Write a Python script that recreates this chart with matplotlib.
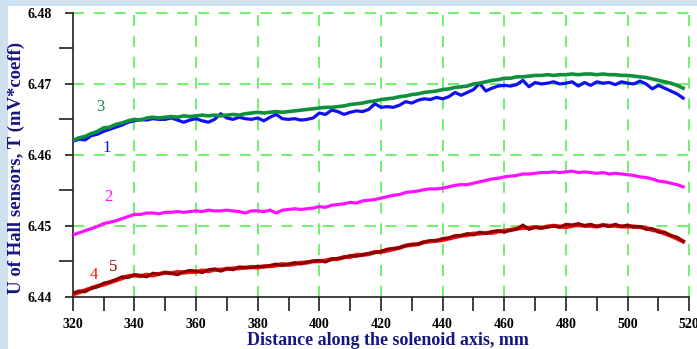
import numpy as np
import matplotlib
matplotlib.use("Agg")
import matplotlib.pyplot as plt

plt.rcParams['lines.scale_dashes'] = False

# ---------------- data ----------------
distance_mm = np.arange(320, 520, 2)  # 320 ... 518

sensor3_green = [
    6.4620, 6.4624, 6.4626, 6.4630, 6.4633, 6.4638, 6.4639, 6.4643, 6.4645, 6.4648,
    6.4650, 6.4649, 6.4652, 6.4653, 6.4652, 6.4653, 6.4654, 6.4653, 6.4655, 6.4654,
    6.4655, 6.4656, 6.4655, 6.4656, 6.4655, 6.4656, 6.4657, 6.4656, 6.4658, 6.4659,
    6.4660, 6.4659, 6.4660, 6.4661, 6.4660, 6.4661, 6.4662, 6.4663, 6.4664, 6.4665,
    6.4666, 6.4667, 6.4667, 6.4668, 6.4669, 6.4671, 6.4672, 6.4673, 6.4675, 6.4676,
    6.4678, 6.4679, 6.4680, 6.4682, 6.4683, 6.4685, 6.4686, 6.4688, 6.4689, 6.4690,
    6.4692, 6.4693, 6.4695, 6.4696, 6.4697, 6.4700, 6.4701, 6.4703, 6.4705, 6.4706,
    6.4708, 6.4708, 6.4710, 6.4710, 6.4711, 6.4712, 6.4712, 6.4713, 6.4712, 6.4713,
    6.4713, 6.4714, 6.4713, 6.4714, 6.4714, 6.4713, 6.4714, 6.4713, 6.4713, 6.4712,
    6.4712, 6.4711, 6.4710, 6.4709, 6.4707, 6.4705, 6.4703, 6.4701, 6.4698, 6.4694,
]

sensor1_blue = [
    6.4619, 6.4622, 6.4621, 6.4627, 6.4629, 6.4633, 6.4636, 6.4639, 6.4642, 6.4646,
    6.4648, 6.4650, 6.4649, 6.4651, 6.4650, 6.4650, 6.4652, 6.4649, 6.4646, 6.4649,
    6.4651, 6.4648, 6.4646, 6.4650, 6.4658, 6.4652, 6.4650, 6.4653, 6.4651, 6.4650,
    6.4652, 6.4648, 6.4653, 6.4657, 6.4651, 6.4650, 6.4651, 6.4649, 6.4650, 6.4652,
    6.4659, 6.4657, 6.4663, 6.4661, 6.4657, 6.4660, 6.4662, 6.4661, 6.4664, 6.4672,
    6.4667, 6.4668, 6.4667, 6.4670, 6.4675, 6.4673, 6.4677, 6.4679, 6.4678, 6.4681,
    6.4679, 6.4682, 6.4688, 6.4684, 6.4688, 6.4692, 6.4701, 6.4690, 6.4694, 6.4697,
    6.4698, 6.4697, 6.4699, 6.4705, 6.4696, 6.4702, 6.4700, 6.4701, 6.4703, 6.4700,
    6.4701, 6.4703, 6.4697, 6.4702, 6.4698, 6.4703, 6.4701, 6.4702, 6.4699, 6.4703,
    6.4701, 6.4700, 6.4704, 6.4700, 6.4693, 6.4698, 6.4694, 6.4690, 6.4686, 6.4680,
]

sensor2_magenta = [
    6.4487, 6.4490, 6.4493, 6.4496, 6.4499, 6.4503, 6.4505, 6.4507, 6.4510, 6.4513,
    6.4516, 6.4516, 6.4518, 6.4518, 6.4517, 6.4519, 6.4519, 6.4520, 6.4519, 6.4520,
    6.4521, 6.4520, 6.4522, 6.4521, 6.4521, 6.4522, 6.4521, 6.4520, 6.4518, 6.4521,
    6.4521, 6.4520, 6.4522, 6.4518, 6.4522, 6.4523, 6.4524, 6.4523, 6.4524, 6.4525,
    6.4527, 6.4526, 6.4529, 6.4530, 6.4531, 6.4533, 6.4532, 6.4535, 6.4536, 6.4537,
    6.4539, 6.4541, 6.4543, 6.4544, 6.4547, 6.4548, 6.4549, 6.4551, 6.4552, 6.4552,
    6.4553, 6.4555, 6.4557, 6.4558, 6.4558, 6.4560, 6.4562, 6.4564, 6.4566, 6.4567,
    6.4569, 6.4570, 6.4571, 6.4573, 6.4573, 6.4574, 6.4575, 6.4575, 6.4576, 6.4575,
    6.4576, 6.4577, 6.4575, 6.4576, 6.4575, 6.4574, 6.4575, 6.4573, 6.4574, 6.4573,
    6.4572, 6.4571, 6.4569, 6.4568, 6.4566, 6.4563, 6.4562, 6.4560, 6.4558, 6.4555,
]

sensor4_red = [
    6.4403, 6.4406, 6.4409, 6.4412, 6.4415, 6.4417, 6.4420, 6.4423, 6.4426, 6.4429,
    6.4430, 6.4429, 6.4431, 6.4430, 6.4432, 6.4434, 6.4433, 6.4435, 6.4434, 6.4435,
    6.4435, 6.4437, 6.4436, 6.4438, 6.4438, 6.4439, 6.4440, 6.4440, 6.4441, 6.4442,
    6.4441, 6.4443, 6.4443, 6.4444, 6.4446, 6.4445, 6.4446, 6.4448, 6.4448, 6.4450,
    6.4450, 6.4451, 6.4453, 6.4453, 6.4456, 6.4456, 6.4459, 6.4459, 6.4460, 6.4463,
    6.4463, 6.4465, 6.4467, 6.4469, 6.4472, 6.4473, 6.4474, 6.4477, 6.4478, 6.4479,
    6.4480, 6.4482, 6.4484, 6.4486, 6.4487, 6.4489, 6.4489, 6.4490, 6.4490, 6.4492,
    6.4493, 6.4494, 6.4496, 6.4497, 6.4497, 6.4498, 6.4497, 6.4499, 6.4500, 6.4499,
    6.4498, 6.4500, 6.4501, 6.4500, 6.4500, 6.4499, 6.4501, 6.4500, 6.4500, 6.4499,
    6.4499, 6.4499, 6.4498, 6.4497, 6.4494, 6.4493, 6.4489, 6.4486, 6.4482, 6.4478,
]

sensor5_darkred = [
    6.4405, 6.4408, 6.4407, 6.4412, 6.4414, 6.4419, 6.4421, 6.4424, 6.4428, 6.4427,
    6.4431, 6.4430, 6.4428, 6.4433, 6.4432, 6.4434, 6.4433, 6.4431, 6.4435, 6.4437,
    6.4436, 6.4434, 6.4438, 6.4439, 6.4436, 6.4440, 6.4438, 6.4442, 6.4441, 6.4441,
    6.4443, 6.4442, 6.4444, 6.4446, 6.4444, 6.4446, 6.4448, 6.4446, 6.4449, 6.4450,
    6.4451, 6.4449, 6.4453, 6.4454, 6.4455, 6.4458, 6.4457, 6.4459, 6.4461, 6.4462,
    6.4464, 6.4467, 6.4468, 6.4469, 6.4472, 6.4474, 6.4474, 6.4477, 6.4479, 6.4479,
    6.4482, 6.4483, 6.4486, 6.4486, 6.4489, 6.4487, 6.4491, 6.4489, 6.4492, 6.4493,
    6.4491, 6.4494, 6.4495, 6.4501, 6.4495, 6.4498, 6.4497, 6.4498, 6.4500, 6.4498,
    6.4502, 6.4501, 6.4503, 6.4500, 6.4502, 6.4499, 6.4501, 6.4499, 6.4502, 6.4499,
    6.4501, 6.4498, 6.4499, 6.4495, 6.4496, 6.4491, 6.4491, 6.4486, 6.4484, 6.4478,
]

x_ticks = [320, 340, 360, 380, 400, 420, 440, 460, 480, 500, 520]
y_ticks = [6.44, 6.45, 6.46, 6.47, 6.48]
y_tick_labels = ["6.44", "6.45", "6.46", "6.47", "6.48"]

# curve labels: (text, x, y, colour)
curve_labels = [
    ("3", 328.9, 6.4667, "#119040"),
    ("1", 331.1, 6.4609, "#1010e0"),
    ("2", 331.5, 6.4540, "#ff10ff"),
    ("4", 326.9, 6.4431, "#ff1010"),
    ("5", 333.1, 6.4442, "#900000"),
]

# ---------------- figure ----------------
fig = plt.figure(figsize=(6.97, 3.49), dpi=100)
fig.patch.set_facecolor("#cfe1ef")

# white panel behind everything
bg = fig.add_axes([8 / 697, 0, 1 - 8 / 697, 1 - 6 / 349], zorder=-5)
bg.set_facecolor("white")
bg.set_xticks([])
bg.set_yticks([])
for s in bg.spines.values():
    s.set_visible(False)

ax = fig.add_axes([72.7 / 697, 1 - 296.7 / 349, (689.3 - 72.7) / 697, (296.7 - 13) / 349])
ax.set_facecolor("white")

ax.set_xlim(320, 520)
ax.set_ylim(6.44, 6.48)

grid_kw = dict(color="#55ee55", linewidth=1.2, linestyle=(0, (8, 7)), zorder=1, clip_on=False)
for xv in x_ticks[1:]:
    ax.axvline(xv, **grid_kw)
for yv in y_ticks[1:]:
    ax.axhline(yv, **grid_kw)

lw = 2.3
ax.plot(distance_mm, sensor4_red, color="#ff1010", linewidth=lw + 0.7, zorder=3)
ax.plot(distance_mm, sensor5_darkred, color="#8c0000", linewidth=lw, zorder=4)
ax.plot(distance_mm, sensor2_magenta, color="#ff10ff", linewidth=lw, zorder=3)
ax.plot(distance_mm, sensor1_blue, color="#1010f0", linewidth=lw, zorder=3)
ax.plot(distance_mm, sensor3_green, color="#10903c", linewidth=lw + 0.3, zorder=4)

for txt, xv, yv, col in curve_labels:
    ax.text(xv, yv, txt, color=col, fontsize=12, family="Liberation Serif",
            ha="center", va="center", zorder=5)

for side in ("top", "right"):
    ax.spines[side].set_visible(False)
for side in ("left", "bottom"):
    ax.spines[side].set_color("#202020")
    ax.spines[side].set_linewidth(1.2)

tick_font = dict(family="Liberation Serif", weight="bold", size=10)
ax.set_xticks(np.arange(320, 521, 10), minor=False)
ax.set_xticklabels([str(v) if v % 20 == 0 else "" for v in range(320, 521, 10)], fontdict=tick_font)
ax.set_yticks(y_ticks)
ax.set_yticklabels(y_tick_labels, fontdict=tick_font)
ax.set_yticks([6.445, 6.455, 6.465, 6.475], minor=True)
ax.tick_params(axis="x", direction="out", length=10, width=1.2, color="#202020", pad=5)
ax.tick_params(axis="y", which="major", direction="out", length=6, width=1.2, color="#202020", pad=9)
ax.tick_params(axis="y", which="minor", direction="out", length=10, width=1.2, color="#202020")

ax.set_xlabel("Distance along the solenoid axis, mm", family="Liberation Serif",
              weight="bold", size=13, color="#161680")
ax.xaxis.set_label_coords(0.511, -0.125)
ax.set_ylabel("U of Hall sensors, T (mV*coeff)", family="Liberation Serif",
              weight="bold", size=13.5, color="#161680")
ax.yaxis.set_label_coords(-0.077, 0.455)

fig.savefig("out.png", dpi=100, facecolor=fig.get_facecolor())
